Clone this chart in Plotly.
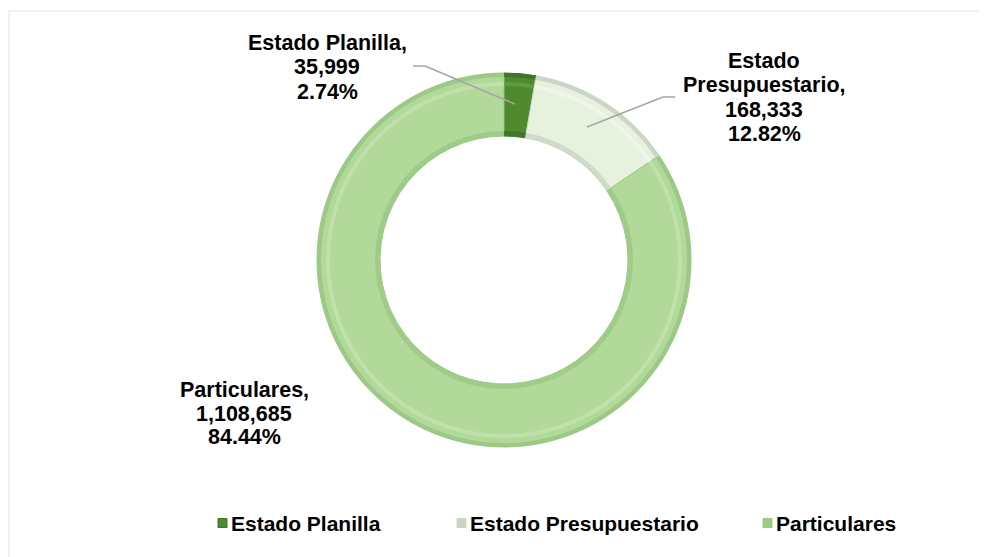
import plotly.graph_objects as go

# ---- data ----
labels = ["Estado Planilla", "Estado Presupuestario", "Particulares"]
values = [35999, 168333, 1108685]
label_lines_name = [["Estado Planilla,"], ["Estado", "Presupuestario,"], ["Particulares,"]]

# ---- styles ----
base_colors = ["#4F8A2E", "#E6F1DE", "#B1D99A"]
edge_colors = ["#40762A", "#CCD6C6", "#9DC987"]
light_colors = ["#68A444", "#F3F9EF", "#C4E5B0"]
W, H = 987, 557
OFF = 8  # page body margin
cx, cy, R, r_in = 504, 260, 187, 124


def px(x):
    return (x - OFF) / W


def py(y):
    return 1 - (y - OFF) / H


def dom_for(rad):
    return dict(x=[px(cx - rad), px(cx + rad)], y=[py(cy + rad), py(cy - rad)])


fig = go.Figure()
common = dict(labels=labels, values=values, sort=False, direction="clockwise",
              rotation=0, textinfo="none", hoverinfo="label+value+percent",
              showlegend=False)
# base ring
fig.add_trace(go.Pie(domain=dom_for(R), hole=r_in / R,
                     marker=dict(colors=base_colors, line=dict(color=edge_colors, width=1)),
                     **common))
# outer soft bevel band
fig.add_trace(go.Pie(domain=dom_for(R), hole=(R - 4) / R,
                     marker=dict(colors=edge_colors, line=dict(width=0)), **common))
# highlight band
Rh = R - 9
fig.add_trace(go.Pie(domain=dom_for(Rh), hole=(Rh - 4) / Rh,
                     marker=dict(colors=light_colors, line=dict(width=0)), opacity=0.7, **common))
# inner bevel band
Ri = r_in + 5
fig.add_trace(go.Pie(domain=dom_for(Ri), hole=r_in / Ri,
                     marker=dict(colors=edge_colors, line=dict(width=0)), opacity=0.85, **common))

total = sum(values)
font = dict(family="Liberation Sans, Arial, sans-serif", size=21.5, color="#000000")
leg_font = dict(family="Liberation Sans, Arial, sans-serif", size=21, color="#000000")
# label block anchors: centre x, first-line centre y, line spacing
label_pos = [(327, 43, 24.5), (764, 61, 24.3), (244, 390, 23.5)]
for i, (lx, ly, sp) in enumerate(label_pos):
    lines = label_lines_name[i] + [f"{values[i]:,}", f"{values[i] / total * 100:.2f}%"]
    for k, line in enumerate(lines):
        fig.add_annotation(x=px(lx), y=py(ly + k * sp), xref="paper", yref="paper",
                           text=f"<b>{line}</b>", showarrow=False, font=font,
                           align="center", xanchor="center", yanchor="middle")

# leader lines
lc = dict(color="#A6A6A6", width=1.5)
for pts in [[(413, 66), (425, 66), (515, 104)], [(675, 97), (663, 97), (587, 127)]]:
    for (x0, y0), (x1, y1) in zip(pts[:-1], pts[1:]):
        fig.add_shape(type="line", xref="paper", yref="paper",
                      x0=px(x0), y0=py(y0), x1=px(x1), y1=py(y1), line=lc)

# custom legend
leg_x = [218, 457, 763]
leg_y = 523
leg_marker = ["#4F8A2E", "#C9D3C2", "#9CCB82"]
for i, lab in enumerate(labels):
    fig.add_shape(type="rect", xref="paper", yref="paper",
                  x0=px(leg_x[i]), x1=px(leg_x[i] + 9), y0=py(leg_y + 4.5), y1=py(leg_y - 4.5),
                  fillcolor=leg_marker[i], line=dict(color=edge_colors[i], width=1))
    fig.add_annotation(x=px(leg_x[i] + 11), y=py(leg_y), xref="paper", yref="paper",
                       text=f"<b>{lab}</b>", showarrow=False, font=leg_font,
                       xanchor="left", yanchor="middle")

# chart border
fig.add_shape(type="rect", xref="paper", yref="paper", x0=px(9), x1=1.05,
              y0=-0.05, y1=py(11), line=dict(color="#EDEDED", width=1.5), layer="below")

fig.update_layout(width=W, height=H, margin=dict(l=0, r=0, t=0, b=0),
                  paper_bgcolor="white", plot_bgcolor="white", showlegend=False)

fig.write_html("out.html")
